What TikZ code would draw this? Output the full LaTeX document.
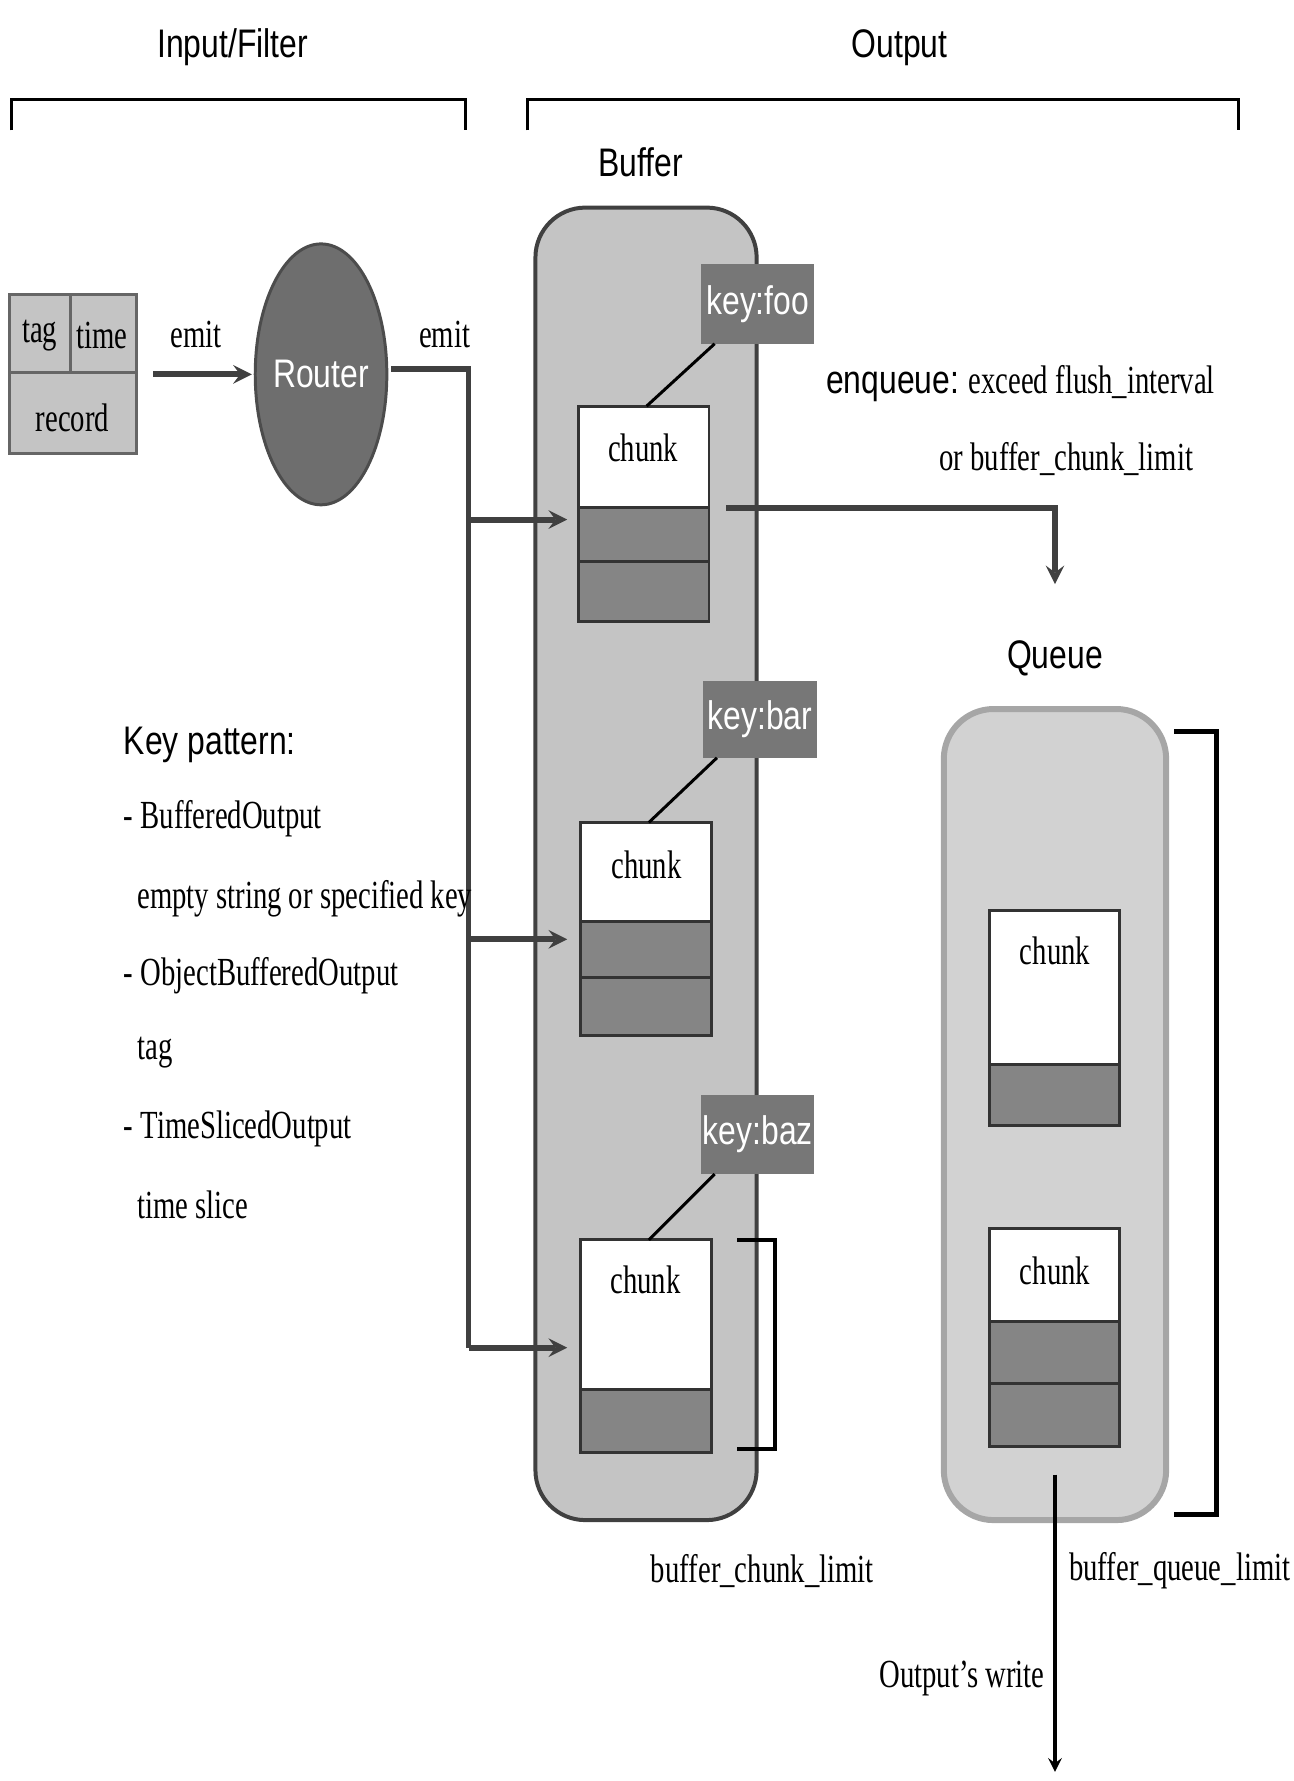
\documentclass[tikz,border=0pt]{standalone}
\usepackage{fontspec}
\setmainfont{Liberation Serif}[FakeStretch=0.72]
\newfontfamily\nsans{Liberation Sans}[FakeStretch=0.8]
\usetikzlibrary{positioning}
\definecolor{boxgray}{HTML}{C4C4C4}
\definecolor{slotgray}{HTML}{858585}
\definecolor{keygray}{HTML}{777777}
\definecolor{routergray}{HTML}{6E6E6E}
\definecolor{queuegray}{HTML}{D2D2D2}
\tikzset{
  lbl/.style={font=\fontsize{20}{24}\selectfont},
  slbl/.style={font=\nsans\fontsize{20}{24}\selectfont},
  slot/.style={draw=black!80, line width=1.5pt, fill=slotgray},
  blank/.style={draw=black!80, line width=1.5pt, fill=white},
  keybox/.style={fill=keygray, text=white, font=\nsans\fontsize{20}{24}\selectfont, inner sep=0pt},
  conn/.style={line width=3pt, draw=black!75},
  tip/.style={-stealth}
}
\begin{document}
\begin{tikzpicture}[x=0.02cm, y=-0.02cm]
  \useasboundingbox (0,0) rectangle (1140,1570);

  % section brackets
  \node[slbl] (inlbl) at (205,42) {Input/Filter};
  \node[slbl] (outlbl) at (793,42) {Output};
  \draw[line width=1.5pt] (10,115) -- (10,88) -- (410,88) -- (410,115);
  \draw[line width=1.5pt] (465,115) -- (465,88) -- (1092,88) -- (1092,115);

  % record
  \draw[fill=boxgray, draw=black!60, line width=1.5pt] (8,260) rectangle (120,400);
  \draw[draw=black!60, line width=1.5pt] (8,328) -- (120,328) (62,260) -- (62,328);
  \node[lbl] (tag) at (35,296) {tag};
  \node[lbl] (time) at (90,296) {time};
  \node[lbl] (rec) at (64,368) {record};
  \coordinate (recr) at (135,330);

  % router
  \draw[fill=routergray, draw=black!70, line width=1.5pt] (283,330) ellipse (58 and 115);
  \node[slbl, text=white] (router) at (283,330) {Router};
  \coordinate (routerl) at (222,330);
  \coordinate (routerr) at (345,325);
  \draw[conn, tip] (recr) -- (routerl);
  \node[lbl] (emit1) at (173,295) {emit};
  \node[lbl] (emit2) at (392,295) {emit};

  % buffer
  \node[slbl] (buflbl) at (565,143) {Buffer};
  \draw[fill=boxgray, draw=black!75, line width=2pt, rounded corners=25] (472,183) rectangle (667,1340);

  % chunks in buffer
  \draw[blank] (510,358) rectangle (625,447);
  \draw[slot] (510,447) rectangle (625,495);
  \draw[slot] (510,495) rectangle (625,548);
  \node[lbl] (chunka) at (567,395) {chunk};
  \draw[blank] (512,725) rectangle (627,812);
  \draw[slot] (512,812) rectangle (627,862);
  \draw[slot] (512,862) rectangle (627,913);
  \node[lbl] (chunkb) at (570,762) {chunk};
  \draw[blank] (512,1093) rectangle (627,1225);
  \draw[slot] (512,1225) rectangle (627,1280);
  \node[lbl] (chunkc) at (569,1128) {chunk};

  % keys
  \node[keybox, minimum width=2cm, minimum height=1.4cm] (kfoo) at (668,268) {key:foo};
  \node[keybox, minimum width=2cm, minimum height=1.36cm] (kbar) at (670,634) {key:bar};
  \node[keybox, minimum width=2cm, minimum height=1.4cm] (kbaz) at (668,1000) {key:baz};
  \draw[line width=1.5pt] (570,358) -- (630,303);
  \draw[line width=1.5pt] (572,725) -- (632,668);
  \draw[line width=1.5pt] (572,1093) -- (630,1035);

  % router to chunks
  \coordinate (ina) at (500,458);
  \coordinate (inb) at (500,828);
  \coordinate (inc) at (500,1188);
  \draw[conn] (routerr) -- (413,325) -- (413,1188);
  \draw[conn, tip] (413,458) -- (ina);
  \draw[conn, tip] (413,828) -- (inb);
  \draw[conn, tip] (413,1188) -- (inc);

  % chunk limit
  \draw[line width=2pt] (650,1093) -- (683,1093) -- (683,1277) -- (650,1277);
  \node[lbl] (bcl) at (672,1385) {buffer\_chunk\_limit};

  % enqueue
  \node[lbl, anchor=west] (enq) at (722,338) {{\nsans enqueue:} exceed flush\_interval};
  \node[lbl] (enq2) at (940,405) {or buffer\_chunk\_limit};
  \coordinate (qtop) at (930,515);
  \draw[conn, tip] (640,448) -- (930,448) -- (qtop);

  % queue
  \node[slbl] (qlbl) at (930,580) {Queue};
  \draw[fill=queuegray, draw=black!35, line width=3pt, rounded corners=25] (832,625) rectangle (1028,1340);
  \draw[blank] (872,803) rectangle (987,938);
  \draw[slot] (872,938) rectangle (987,992);
  \node[lbl] (qchunka) at (930,838) {chunk};
  \draw[blank] (872,1083) rectangle (987,1165);
  \draw[slot] (872,1165) rectangle (987,1220);
  \draw[slot] (872,1220) rectangle (987,1275);
  \node[lbl] (qchunkb) at (930,1120) {chunk};

  % queue limit
  \draw[line width=2.5pt] (1035,645) -- (1072,645) -- (1072,1335) -- (1035,1335);
  \node[lbl] (bql) at (1040,1385) {buffer\_queue\_limit};

  % write
  \coordinate (qbot) at (930,1300);
  \coordinate (wend) at (930,1562);
  \draw[line width=2pt, tip] (qbot) -- (wend);
  \node[lbl] (wlbl) at (848,1480) {Output's write};

  % key pattern
  \node[slbl, anchor=west] (kp) at (103,657) {Key pattern:};
  \node[lbl, anchor=west] (kp1) at (103,722) {- BufferedOutput};
  \node[lbl, anchor=west] (kp2) at (115,792) {empty string or specified key};
  \node[lbl, anchor=west] (kp3) at (103,860) {- ObjectBufferedOutput};
  \node[lbl, anchor=west] (kp4) at (115,928) {tag};
  \node[lbl, anchor=west] (kp5) at (103,995) {- TimeSlicedOutput};
  \node[lbl, anchor=west] (kp6) at (115,1062) {time slice};
\end{tikzpicture}
\end{document}
